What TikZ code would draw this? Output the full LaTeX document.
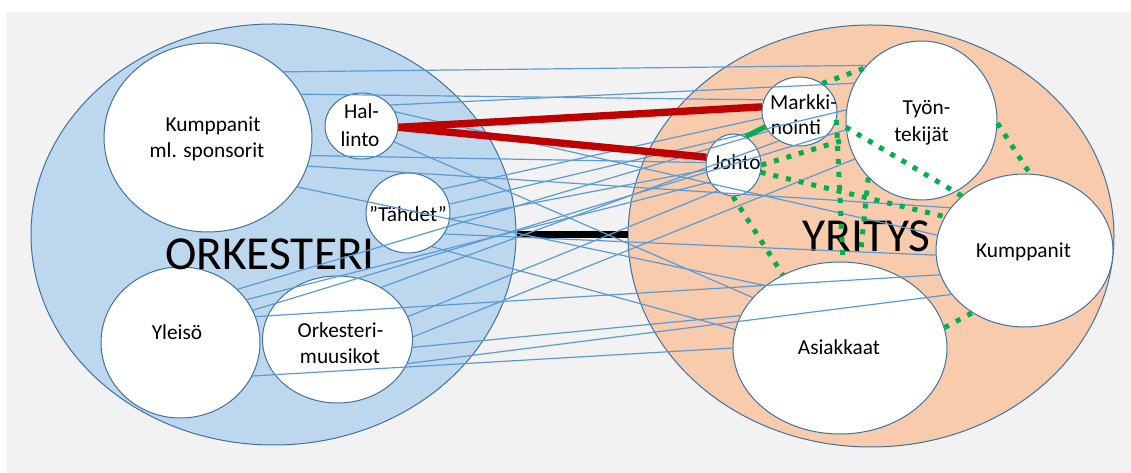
\documentclass[tikz,border=0pt]{standalone}
\usepackage{fontspec}
\setmainfont{Carlito}
\usetikzlibrary{shapes.geometric}
\definecolor{cbg}{HTML}{F2F2F2}
\definecolor{clblue}{HTML}{BDD7EE}
\definecolor{cpeach}{HTML}{F8CBAD}
\definecolor{cedge}{HTML}{41719C}
\definecolor{cwire}{HTML}{5B9BD5}
\definecolor{cred}{HTML}{C00000}
\definecolor{cgreen}{HTML}{00B050}
\begin{document}
\begin{tikzpicture}[x=0.75pt,y=-0.75pt,
  ell/.style 2 args={ellipse, draw=cedge, line width=0.75pt, inner sep=0pt,
    minimum width=#1*1.5pt, minimum height=#2*1.5pt},
  bub/.style={fill=white},
  txt/.style={font=\fontsize{16}{21}\selectfont, anchor=base, inner sep=0pt},
  bigtxt/.style={font=\fontsize{35.5}{40}\selectfont, anchor=base, inner sep=0pt},
  wl/.style={draw=cwire, line width=0.9pt},
  redw/.style={draw=cred, line width=5.5pt},
  grn/.style={draw=cgreen, line width=3.75pt, dash pattern=on 3.75pt off 6pt},
  gsolid/.style={draw=cgreen, line width=3.75pt},
  blk/.style={draw=black, line width=5.25pt}
]
% background
\path[use as bounding box, fill=white] (0,0) rectangle (1131,473);
\fill[cbg] (6,12) rectangle (1131,473);

% big ellipses
\node[ell={242.5}{210.5}, fill=clblue] (L) at (273.5,234.5) {};
\node[ell={243}{211}, fill=cpeach] (R) at (871,236) {};

% inner bubbles left
\node[ell={104}{94.5}, bub] (KS) at (208,137.5) {};
\node[ell={36.5}{33}, bub] (H) at (361.5,126) {};
\node[ell={42}{40}, bub] (TA) at (408,213) {};
\node[ell={79.5}{75.5}, bub] (Y) at (180.5,342.5) {};
\node[ell={75}{63.5}, bub] (O) at (337.5,339.5) {};
% inner bubbles right
\node[ell={37.5}{34.5}, bub] (M) at (799.5,111.5) {};
\node[ell={27.5}{31}, bub] (J) at (733.5,165) {};
\node[ell={75.5}{79.5}, bub] (T) at (921.5,120.5) {};
\node[ell={88.5}{76.5}, bub] (K) at (1024.5,250.5) {};
\node[ell={107}{86}, bub] (A) at (840,348) {};

% texts
\node[bigtxt] (tOrk) at (270,270) {ORKESTERI};
\node[bigtxt] (tYri) at (866.5,251.7) {YRITYS};
\node[txt] (tKS1) at (213,131.7) {Kumppanit};
\node[txt] (tKS2) at (207,157.5) {ml. sponsorit};
\node[txt] (tH1) at (361.5,118.3) {Hal-};
\node[txt] (tH2) at (360,146.5) {linto};
\node[txt] (tTA) at (408,221.7) {”Tähdet”};
\node[txt] (tY) at (177,340) {Yleisö};
\node[txt] (tO1) at (340.5,337.3) {Orkesteri-};
\node[txt] (tO2) at (340,364) {muusikot};
\node[txt] (tM1) at (803.5,109.3) {Markki-};
\node[txt] (tM2) at (796,135) {nointi};
\node[txt] (tJ) at (737,170) {Johto};
\node[txt] (tT1) at (926.5,115) {Työn-};
\node[txt] (tT2) at (921.5,141.7) {tekijät};
\node[txt] (tK) at (1023.5,257.3) {Kumppanit};
\node[txt] (tA) at (839,354.3) {Asiakkaat};

% black link between the two worlds
\draw[blk] (L.east) -- (L.east -| R.west);

% blue links
\draw[wl] (KS.41.6) -- (T.135.5);
\draw[wl] (KS.25.3) -- (M.162.5);
\draw[wl] (KS.-10.8) -- (J.175);
\draw[wl] (KS.-16.6) -- (K.150);
\draw[wl] (KS.-29.2) -- (A.140.3);
\draw[wl] (H.36.4) -- (T.151);
\draw[wl] (H.23.1) -- (K.170);
\draw[wl] (H.-26.9) -- (A.150.4);
\draw[wl] (TA.35) -- (M.190);
\draw[wl] (TA.12) -- (T.172);
\draw[wl] (TA.-8) -- (J.190);
\draw[wl] (TA.-30) -- (K.183);
\draw[wl] (TA.-55) -- (A.170);
\draw[wl] (Y.43.5) -- (M.212);
\draw[wl] (Y.33.8) -- (J.216);
\draw[wl] (Y.24.6) -- (T.187);
\draw[wl] (Y.19.3) -- (K.196);
\draw[wl] (Y.-25.3) -- (A.180);
\draw[wl] (O.50) -- (M.235);
\draw[wl] (O.18) -- (J.238);
\draw[wl] (O.2) -- (T.210);
\draw[wl] (O.-6) -- (A.162);
\draw[wl] (O.-19) -- (K.211);

% red links
\draw[redw] (H.-2) -- (M.173);
\draw[redw] (H.-2) -- (J.164);

% green dotted links
\draw[grn] (M.51.5) -- (T.138.8);
\draw[gsolid] (J.67) -- (M.204);
\draw[grn] (M.-13.5) -- (A.88);
\draw[grn, shorten >=7.5pt] (T.227) -- (A.77.4);
\draw[grn] (J.0) -- (T.194);
\draw[grn] (J.-15.7) -- (K.157);
\draw[grn] (T.185) -- (K.139.6);
\draw[grn] (T.-2) -- (K.86);
\draw[grn] (J.269) -- (A.128.7);
\draw[grn] (A.11.3) -- (K.230);
\end{tikzpicture}
\end{document}
